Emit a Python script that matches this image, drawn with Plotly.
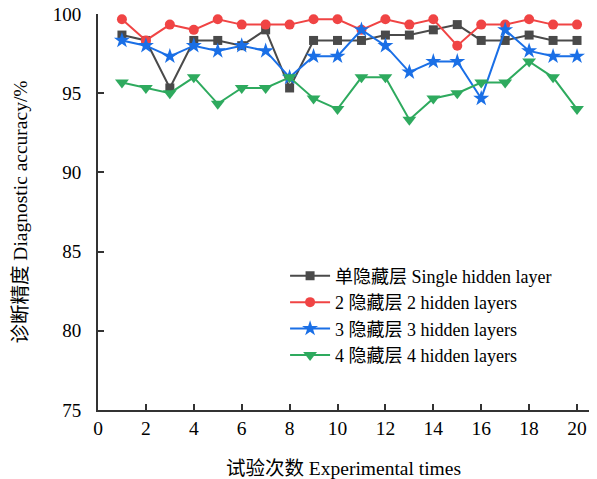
import plotly.graph_objects as go

trials = list(range(1, 21))
single_layer = [98.67, 98.33, 95.33, 98.33, 98.33, 98.0, 99.0, 95.33, 98.33, 98.33,
                98.33, 98.67, 98.67, 99.0, 99.33, 98.33, 98.33, 98.67, 98.33, 98.33]
two_layers = [99.67, 98.33, 99.33, 99.0, 99.67, 99.33, 99.33, 99.33, 99.67, 99.67,
              99.0, 99.67, 99.33, 99.67, 98.0, 99.33, 99.33, 99.67, 99.33, 99.33]
three_layers = [98.33, 98.0, 97.33, 98.0, 97.67, 98.0, 97.67, 96.0, 97.33, 97.33,
                99.0, 98.0, 96.33, 97.0, 97.0, 94.67, 99.0, 97.67, 97.33, 97.33]
four_layers = [95.67, 95.33, 95.0, 96.0, 94.33, 95.33, 95.33, 96.0, 94.67, 94.0,
               96.0, 96.0, 93.33, 94.67, 95.0, 95.67, 95.67, 97.0, 96.0, 94.0]

names = ["单隐藏层 Single hidden layer", "2 隐藏层 2 hidden layers",
         "3 隐藏层 3 hidden layers", "4 隐藏层 4 hidden layers"]
colors = ["#4a4a4a", "#f04444", "#1a6fe6", "#2eaa5e"]
symbols = ["square", "circle", "star", "triangle-down"]
sizes = [9, 10, 12, 12]
series = [single_layer, two_layers, three_layers, four_layers]

FONT = "Liberation Serif, Times New Roman, Noto Sans CJK SC, serif"

fig = go.Figure()
for s, n, c, sym, sz in zip(series, names, colors, symbols, sizes):
    fig.add_trace(go.Scatter(
        x=trials, y=s, name=n, mode="lines+markers",
        line=dict(color=c, width=2),
        marker=dict(symbol=sym, size=sz, color=c),
    ))

fig.update_layout(
    width=597, height=479,
    margin=dict(l=98, r=8, t=14, b=69),
    paper_bgcolor="white", plot_bgcolor="white",
    font=dict(family=FONT, size=19, color="black"),
    showlegend=True,
    legend=dict(x=0.381, y=0.385, xanchor="left", yanchor="top",
                bgcolor="rgba(0,0,0,0)", font=dict(size=18, family=FONT),
                tracegroupgap=0, itemwidth=40),
    xaxis=dict(
        range=[0, 20.5], tickvals=list(range(0, 21, 2)),
        showline=True, linecolor="#333", linewidth=2, mirror=False,
        ticks="inside", ticklen=6, tickwidth=1.5, tickcolor="#333",
        showgrid=False, zeroline=False, automargin=False,
        title=dict(text="试验次数 Experimental times", standoff=24,
                   font=dict(size=19.5, family=FONT)),
        tickfont=dict(size=19.5),
    ),
    yaxis=dict(
        range=[75, 100], tickvals=[75, 80, 85, 90, 95, 100],
        showline=True, linecolor="#333", linewidth=2, mirror=False,
        ticks="inside", ticklen=6, tickwidth=1.5, tickcolor="#333",
        showgrid=False, zeroline=False, automargin=False,
        ticklabelstandoff=11,
        title=dict(text="诊断精度 Diagnostic accuracy/%", standoff=20,
                   font=dict(size=19.5, family=FONT)),
        tickfont=dict(size=19),
    ),
)

fig.write_html("out.html", config={"displayModeBar": False},
               post_script="document.body.style.margin='0';")
